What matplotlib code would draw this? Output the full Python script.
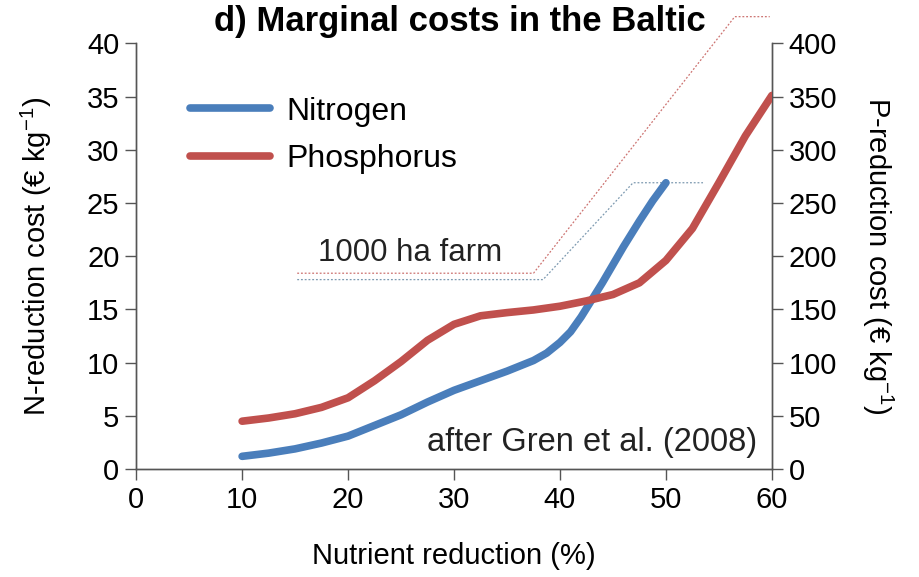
import matplotlib.pyplot as plt
import numpy as np

plt.rcParams['font.family'] = ['Liberation Sans', 'DejaVu Sans']
plt.rcParams['mathtext.fontset'] = 'custom'
plt.rcParams['mathtext.rm'] = 'Liberation Sans'
plt.rcParams['mathtext.it'] = 'Liberation Sans'

# nutrient reduction (%) and marginal cost
pct_n = [10, 12.5, 15, 17.5, 20, 22.5, 25, 27.5, 30, 32.5, 35, 37.5, 38.75, 40, 41, 42, 43,
         44, 45, 46, 47.5, 48.75, 50]
nitrogen = [1.2, 1.5, 1.9, 2.45, 3.1, 4.1, 5.1, 6.3, 7.4, 8.3, 9.2, 10.2, 10.9, 11.9, 12.9,
            14.3, 15.9, 17.5, 19.2, 20.9, 23.3, 25.2, 26.9]

pct_p = [10, 12.5, 15, 17.5, 20, 22.5, 25, 27.5, 30, 32.5, 35, 37.5, 40, 42.5, 45, 47.5,
         50, 52.5, 55, 57.5, 60]
phosphorus = [45, 48, 52, 58, 67, 83, 101, 121, 136, 144, 147, 149.5, 153, 158, 164, 175,
              196, 226, 269, 313, 351]

# "1000 ha farm" guide lines (x in %, y on N axis)
farm_p_x = [15.2, 37.5, 56.5, 59.8]
farm_p_y = [18.4, 18.4, 42.5, 42.5]
farm_n_x = [15.2, 38.4, 46.9, 53.5]
farm_n_y = [17.8, 17.8, 26.9, 26.9]

blue = '#4a7ebb'
red = '#c0504d'

fig = plt.figure(figsize=(9.2, 5.77), dpi=100)
ax = fig.add_axes([0.148, 0.187, 0.691, 0.738])
ax2 = ax.twinx()

ln1, = ax.plot(pct_n, nitrogen, color=blue, lw=5.5, solid_capstyle='round',
               solid_joinstyle='round', label='Nitrogen', zorder=3)
ln2, = ax2.plot(pct_p, phosphorus, color=red, lw=5.5, solid_capstyle='round',
                solid_joinstyle='round', label='Phosphorus', zorder=3)

ax.plot(farm_p_x, farm_p_y, color=red, lw=0.9, ls=(0, (1.5, 1.5)), alpha=0.8, clip_on=False)
ax.plot(farm_n_x, farm_n_y, color='#6f8fa8', lw=0.9, ls=(0, (1.5, 1.5)), alpha=0.9, clip_on=False)

ax.set_xlim(0, 60)
ax.set_ylim(0, 40)
ax2.set_ylim(0, 400)
ax.set_xticks(np.arange(0, 61, 10))
ax.set_yticks(np.arange(0, 41, 5))
ax2.set_yticks(np.arange(0, 401, 50))

for a in (ax, ax2):
    a.spines['top'].set_visible(False)
    for s in a.spines.values():
        s.set_color('#555555')
        s.set_linewidth(1.0)
    a.tick_params(labelsize=21, length=8, width=1.0, color='#555555', pad=4)

ax.set_xlabel('Nutrient reduction (%)', fontsize=21, labelpad=20)
ax.set_ylabel('N-reduction cost (€ kg$^{-1}$)', fontsize=21, labelpad=24)
ax2.set_ylabel('P-reduction cost (€ kg$^{-1}$)', fontsize=21, rotation=-90, labelpad=42)

ax.text(17.2, 20.3, '1000 ha farm', fontsize=22.5, ha='left', va='center', color='#222222')
ax.text(58.6, 2.5, 'after Gren et al. (2008)', fontsize=23.5, ha='right', va='center',
        color='#222222')

fig.text(0.5, 0.962, 'd) Marginal costs in the Baltic', fontsize=25, fontweight='bold',
         ha='center', va='center')

ax.legend([ln1, ln2], ['Nitrogen', 'Phosphorus'], loc='upper left',
          bbox_to_anchor=(0.085, 0.875), frameon=False, fontsize=23,
          handlelength=2.5, handletextpad=0.5, labelspacing=0.55,
          borderpad=0, borderaxespad=0)

fig.savefig('out.png', dpi=100)
